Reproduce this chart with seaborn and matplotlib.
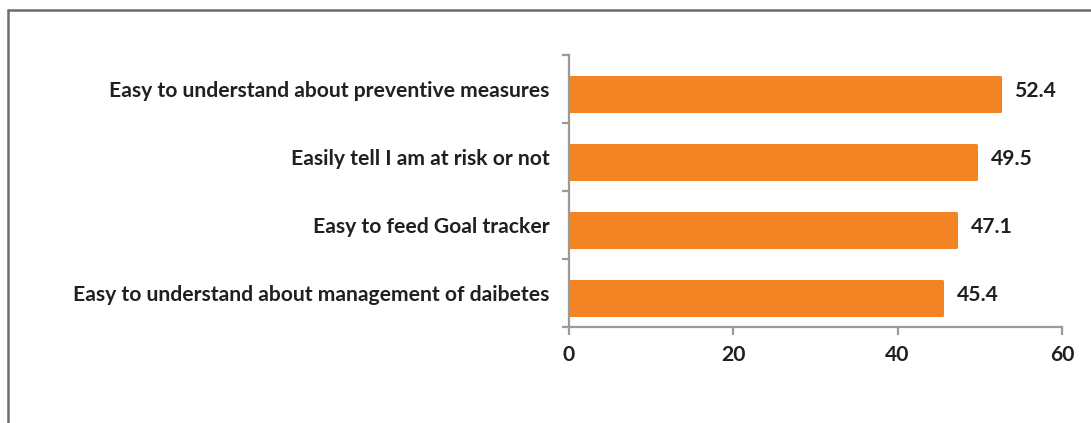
import matplotlib
matplotlib.use("Agg")
import matplotlib.pyplot as plt
import seaborn as sns
import pandas as pd

categories = [
    "Easy to understand about preventive measures",
    "Easily tell I am at risk or not",
    "Easy to feed Goal tracker",
    "Easy to understand about management of daibetes",
]
values = [52.4, 49.5, 47.1, 45.4]
x_ticks = [0, 20, 40, 60]

sns.set_theme(style="white")
plt.rcParams["font.family"] = ["Lato", "DejaVu Sans"]

df = pd.DataFrame({"item": categories, "pct": values})

fig = plt.figure(figsize=(10.91, 4.23), dpi=100)
ax = fig.add_axes([569 / 1091, 1 - 327 / 423, (1062 - 569) / 1091, (327 - 55) / 423])

bar_color = "#F28424"
sns.barplot(data=df, x="pct", y="item", color=bar_color, saturation=1,
            width=0.5, ax=ax, orient="h",
            edgecolor=bar_color, linewidth=2.2)
for patch in ax.patches:
    patch.set_joinstyle("round")

# bars sit slightly below the middle of each band
shift = 0.08
ax.set_xlim(0, 60)
ax.set_ylim(3.5 - shift, -0.5 - shift)
ax.set_xticks(x_ticks)
ax.set_xlabel("")
ax.set_ylabel("")

axis_color = "#9a9a9a"
for side in ["top", "right"]:
    ax.spines[side].set_visible(False)
for side in ["left", "bottom"]:
    ax.spines[side].set_color(axis_color)
    ax.spines[side].set_linewidth(1.6)

# category boundaries carry the y tick marks; labels sit mid-band
ax.set_yticks([k - 0.5 - shift for k in range(len(categories) + 1)], minor=True)
ax.set_yticks([k - shift for k in range(len(categories))])
ax.set_yticklabels(categories)
fs = 15.2
ax.tick_params(axis="y", which="major", length=0, pad=14,
               labelsize=fs, labelcolor="#231f20")
ax.tick_params(axis="y", which="minor", length=5, width=1.6,
               color=axis_color, left=True)
ax.tick_params(axis="x", bottom=True, length=6, width=1.6, color=axis_color,
               pad=7, labelsize=fs, labelcolor="#231f20")
for lab in ax.get_yticklabels() + ax.get_xticklabels():
    lab.set_fontweight("bold")

for i, v in enumerate(values):
    ax.text(v + 1.8, i - shift, f"{v:.1f}", va="center_baseline", ha="left",
            fontsize=fs, fontweight="bold", color="#231f20")

# outer frame
fig.add_artist(plt.Line2D([8 / 1091, 8 / 1091], [0, 1 - 10 / 423],
                          transform=fig.transFigure, color="#6d6d6d", lw=1.8))
fig.add_artist(plt.Line2D([8 / 1091, 1], [1 - 10 / 423, 1 - 10 / 423],
                          transform=fig.transFigure, color="#6d6d6d", lw=1.8))

fig.savefig("out.png", dpi=100)
